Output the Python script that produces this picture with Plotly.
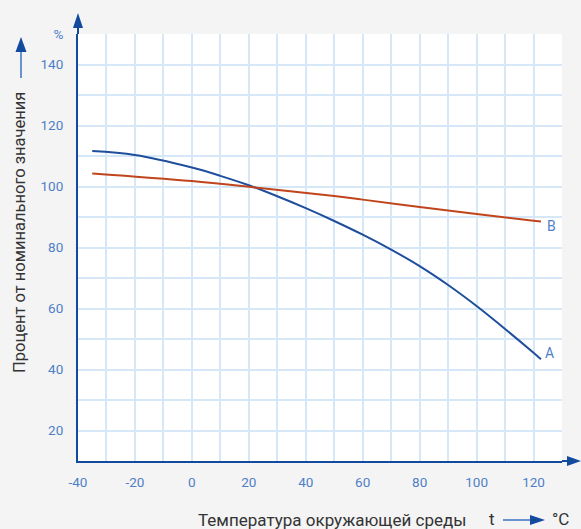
import plotly.graph_objects as go

# --- data ---
temp_a = [-35, -20, 0, 10, 20, 30, 40, 50, 60, 70, 80, 90, 100, 110, 120, 122.6]
pct_a = [111.6, 110.3, 106.2, 103.5, 100.4, 96.8, 92.9, 88.7, 84.2, 79.3, 73.9, 67.7, 60.8, 53.3, 45.5, 43.4]
temp_b = [-35, 0, 23, 50, 60, 80, 100, 120, 122.6]
pct_b = [104.3, 101.8, 99.6, 96.9, 95.7, 93.3, 91.0, 88.8, 88.5]

x_tickvals = list(range(-40, 131, 10))
x_ticktext = [str(v) if v % 20 == 0 and v <= 120 else "" for v in x_tickvals]
y_tickvals = list(range(10, 151, 10))
y_ticktext = ["%" if v == 150 else (str(v) if v % 20 == 0 else "") for v in y_tickvals]

series_labels = ["A", "B"]
x_title = "Температура окружающей среды"
y_title = "Процент от номинального значения"

FONT = "Roboto"
TICK_COLOR = "#4f7fc6"
AXIS_COLOR = "#124a9e"
GRID_COLOR = "#d6e7f8"
TEXT_COLOR = "#333333"

fig = go.Figure()
fig.add_trace(go.Scatter(x=temp_a, y=pct_a, mode="lines", line=dict(color="#1f4e9c", width=2, shape="spline", smoothing=1),
                         hoverinfo="skip", showlegend=False))
fig.add_trace(go.Scatter(x=temp_b, y=pct_b, mode="lines", line=dict(color="#c0441c", width=2, shape="spline", smoothing=1),
                         hoverinfo="skip", showlegend=False))

W, H = 581, 529
L, R, T, B = 78, 19, 34, 68
pw, ph = W - L - R, H - T - B

def px(xp):
    return (xp - L) / pw

def py(yp):
    return (H - B - yp) / ph

fig.update_layout(
    width=W, height=H,
    margin=dict(l=L, r=R, t=T, b=B, pad=0),
    paper_bgcolor="#f4f4f4", plot_bgcolor="#ffffff",
    font=dict(family=FONT, color=TICK_COLOR, size=13),
    xaxis=dict(range=[-40, 130], tickvals=x_tickvals, ticktext=x_ticktext, showgrid=True,
               gridcolor=GRID_COLOR, gridwidth=1.5, zeroline=False, showline=True, linecolor=AXIS_COLOR,
               linewidth=2, ticks="", ticklabelstandoff=8, tickfont=dict(size=13.5, color=TICK_COLOR)),
    yaxis=dict(range=[10, 150], tickvals=y_tickvals, ticktext=y_ticktext, showgrid=True,
               gridcolor=GRID_COLOR, gridwidth=1.5, zeroline=False, showline=True, linecolor=AXIS_COLOR,
               linewidth=2, ticks="", ticklabelstandoff=10, tickfont=dict(size=13.5, color=TICK_COLOR)),
)

shapes = []
# y axis extension + arrow
shapes.append(dict(type="line", xref="paper", yref="paper", x0=0, x1=0, y0=1, y1=py(27),
                   line=dict(color=AXIS_COLOR, width=2)))
shapes.append(dict(type="path", xref="paper", yref="paper",
                   path=f"M {px(73)},{py(28)} L {px(83)},{py(28)} L {px(78)},{py(13)} Z",
                   fillcolor=AXIS_COLOR, line=dict(width=0)))
# x axis extension + arrow
shapes.append(dict(type="line", xref="paper", yref="paper", x0=1, x1=px(568), y0=0, y1=0,
                   line=dict(color=AXIS_COLOR, width=2)))
shapes.append(dict(type="path", xref="paper", yref="paper",
                   path=f"M {px(567)},{py(456)} L {px(567)},{py(466)} L {px(581)},{py(461)} Z",
                   fillcolor=AXIS_COLOR, line=dict(width=0)))
# y title arrow
shapes.append(dict(type="line", xref="paper", yref="paper", x0=px(21), x1=px(21), y0=py(78), y1=py(51),
                   line=dict(color="#3a72c4", width=1.5)))
shapes.append(dict(type="path", xref="paper", yref="paper",
                   path=f"M {px(15.5)},{py(52)} L {px(26.5)},{py(52)} L {px(21)},{py(37)} Z",
                   fillcolor=AXIS_COLOR, line=dict(width=0)))
# x title arrow
shapes.append(dict(type="line", xref="paper", yref="paper", x0=px(503), x1=px(531), y0=py(520), y1=py(520),
                   line=dict(color="#3a72c4", width=1.5)))
shapes.append(dict(type="path", xref="paper", yref="paper",
                   path=f"M {px(530)},{py(515)} L {px(530)},{py(525)} L {px(545)},{py(520)} Z",
                   fillcolor=AXIS_COLOR, line=dict(width=0)))
fig.update_layout(shapes=shapes)

annotations = [
    dict(text=x_title, xref="paper", yref="paper", x=px(468), y=py(520), xanchor="right", yanchor="middle",
         showarrow=False, font=dict(family=FONT, size=17, color=TEXT_COLOR)),
    dict(text="t", xref="paper", yref="paper", x=px(492), y=py(519), xanchor="center", yanchor="middle",
         showarrow=False, font=dict(family=FONT, size=17, color=TEXT_COLOR)),
    dict(text="°C", xref="paper", yref="paper", x=px(550), y=py(519), xanchor="left", yanchor="middle",
         showarrow=False, font=dict(family=FONT, size=17, color=TEXT_COLOR)),
    dict(text=y_title, xref="paper", yref="paper", x=px(20), y=py(233), xanchor="center", yanchor="middle",
         textangle=-90, showarrow=False, font=dict(family=FONT, size=16.5, color=TEXT_COLOR)),
    dict(text=series_labels[0], x=125.5, y=45.3, xanchor="center", yanchor="middle", showarrow=False,
         font=dict(family=FONT, size=14, color=TICK_COLOR)),
    dict(text=series_labels[1], x=126.2, y=87.2, xanchor="center", yanchor="middle", showarrow=False,
         font=dict(family=FONT, size=14, color=TICK_COLOR)),
]
fig.update_layout(annotations=annotations)

fig.write_html("out.html", config={"displayModeBar": False},
               post_script="document.body.style.margin='0';document.body.style.padding='0';")
